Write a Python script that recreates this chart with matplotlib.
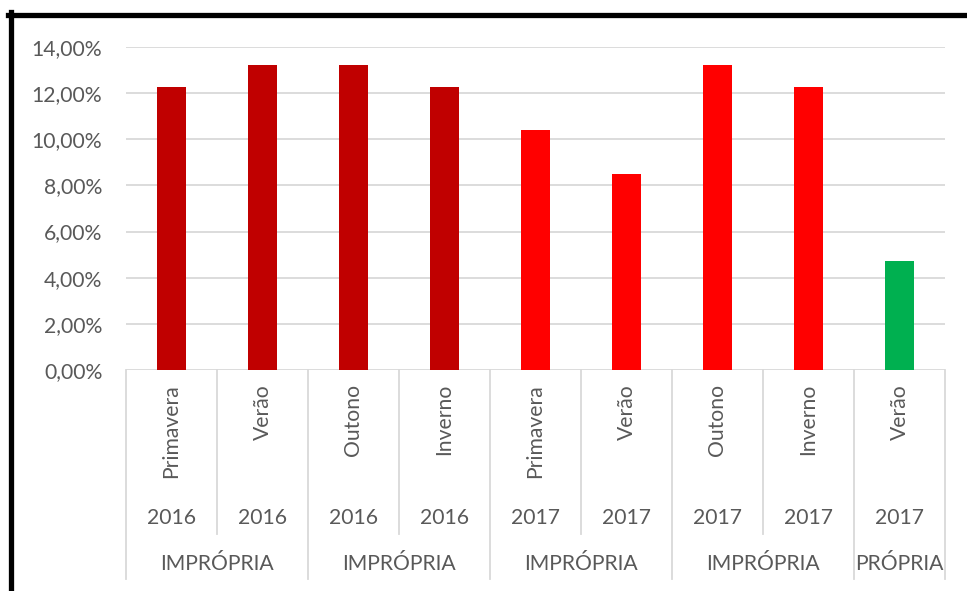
import matplotlib
matplotlib.use('Agg')
import matplotlib.pyplot as plt
from matplotlib.transforms import blended_transform_factory
from matplotlib.lines import Line2D

plt.rcParams['font.family'] = ['Lato', 'DejaVu Sans']

# === Données ===
estacoes = ["Primavera", "Verão", "Outono", "Inverno", "Primavera", "Verão", "Outono", "Inverno", "Verão"]
anos = ["2016", "2016", "2016", "2016", "2017", "2017", "2017", "2017", "2017"]
valores = [12.26, 13.22, 13.22, 12.26, 10.40, 8.50, 13.22, 12.26, 4.72]
cores = ["#C00000"] * 4 + ["#FF0000"] * 4 + ["#00B050"]
grupos = ["IMPRÓPRIA", "IMPRÓPRIA", "IMPRÓPRIA", "IMPRÓPRIA", "PRÓPRIA"]
grupos_pos = [0.5, 2.5, 4.5, 6.5, 8]
yticks = [0, 2, 4, 6, 8, 10, 12, 14]

W, H = 967, 591
cinza_txt = "#595959"
cinza_lin = "#D9D9D9"
fs = 15.2

fig = plt.figure(figsize=(W / 100, H / 100), dpi=100)
ax = fig.add_axes([126 / W, 1 - 370 / H, (945 - 126) / W, (370 - 47) / H])

x = list(range(len(valores)))
ax.bar(x, valores, width=0.32, color=cores, zorder=3)
ax.set_xlim(-0.5, len(valores) - 0.5)
ax.set_ylim(0, 14)
ax.set_yticks(yticks)
ax.set_yticklabels([f"{v:.2f}".replace('.', ',') + "%" for v in yticks], fontsize=fs, color=cinza_txt)
ax.tick_params(axis='y', length=0, pad=17)
ax.set_xticks([])
for s in ax.spines.values():
    s.set_visible(False)
ax.yaxis.grid(True, color=cinza_lin, lw=1.3, zorder=0)
ax.set_axisbelow(True)

# eixo categorias (multi-nível)
tr = blended_transform_factory(ax.transData, fig.transFigure)
fy = lambda py: 1 - py / H
for i in range(len(valores) + 1):
    xb = i - 0.5
    full = i in (0, 2, 4, 6, 8, 9)
    y_end = 579 if full else 534
    ax.add_line(Line2D([xb, xb], [fy(370), fy(y_end)], transform=tr, color=cinza_lin, lw=1.3, clip_on=False))

for i, (e, a) in enumerate(zip(estacoes, anos)):
    ax.text(i, fy(384), e, transform=tr, rotation=90, ha='center', va='top', fontsize=fs, color=cinza_txt)
    ax.text(i, fy(518), a, transform=tr, ha='center', va='center', fontsize=fs, color=cinza_txt)

for g, p in zip(grupos, grupos_pos):
    ax.text(p, fy(564), g, transform=tr, ha='center', va='center', fontsize=fs, color=cinza_txt)

# bordure noire
fig.add_artist(Line2D([10.5 / W, 10.5 / W], [0, fy(12)], transform=fig.transFigure, color='black', lw=3.8))
fig.add_artist(Line2D([8 / W, 1], [fy(14.5), fy(14.5)], transform=fig.transFigure, color='black', lw=3.8))

fig.savefig("out.png", dpi=100)
